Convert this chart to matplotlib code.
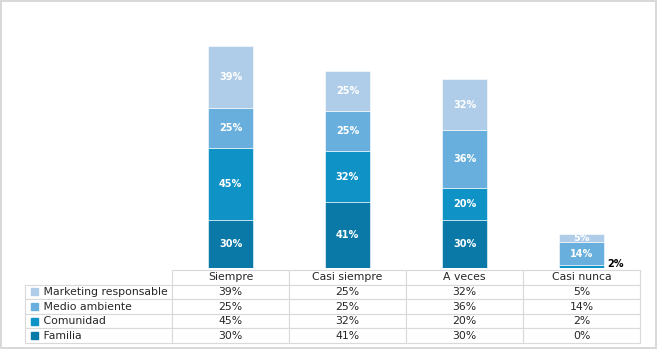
import matplotlib.pyplot as plt
from matplotlib.table import Table
from matplotlib.patches import Rectangle

categorias = ["Siempre", "Casi siempre", "A veces", "Casi nunca"]
series = ["Familia", "Comunidad", "Medio ambiente", "Marketing responsable"]
familia = [30, 41, 30, 0]
comunidad = [45, 32, 20, 2]
medio_ambiente = [25, 25, 36, 14]
marketing = [39, 25, 32, 5]
valores = [familia, comunidad, medio_ambiente, marketing]
colores = ["#0B79A7", "#0F93C7", "#68AFDD", "#AFCDE8"]

fig = plt.figure(figsize=(6.57, 3.49), dpi=100)
fig.patch.set_edgecolor("#D9D9D9")
fig.patch.set_linewidth(1.5)
ax = fig.add_axes([172 / 657, 1 - 268 / 349, 468 / 657, 256 / 349])

x = list(range(len(categorias)))
base = [0] * len(categorias)
for vals, col in zip(valores, colores):
    ax.bar(x, vals, width=0.39, bottom=base, color=col, edgecolor="white", linewidth=0.4)
    for i, v in enumerate(vals):
        if v == 0:
            continue
        if v < 4:
            ax.text(i + 0.22, base[i] + v / 2 + 1.5, f"{v}%", ha="left", va="center",
                    fontsize=7, fontweight="bold", color="black")
        else:
            ax.text(i, base[i] + v / 2, f"{v}%", ha="center", va="center",
                    fontsize=7, fontweight="bold", color="white")
    base = [b + v for b, v in zip(base, vals)]

ax.set_xlim(-0.5, 3.5)
ax.set_ylim(0, 160)
ax.axis("off")

# tabla de datos (el bbox cubre solo las columnas de datos)
tabla = Table(ax, bbox=[0, -75 / 256, 1, 73 / 256])
h = 1 / 5
for j, c in enumerate(categorias):
    tabla.add_cell(0, j, width=0.25, height=h, text=c, loc="center", edgecolor="#D9D9D9")
filas = list(zip(series, valores, colores))[::-1]
for r, (nombre, vals, col) in enumerate(filas, start=1):
    tabla.add_cell(r, -1, width=147 / 468, height=h, text=" " + nombre, loc="left",
                   edgecolor="#D9D9D9")
    for j, v in enumerate(vals):
        tabla.add_cell(r, j, width=0.25, height=h, text=f"{v}%", loc="center",
                       edgecolor="#D9D9D9")
tabla.auto_set_font_size(False)
tabla.set_fontsize(7.8)
for cell in tabla.get_celld().values():
    cell.set_linewidth(0.8)
    cell.get_text().set_color("#262626")
ax.add_table(tabla)

# cuadros de leyenda en las etiquetas de fila
for r, (nombre, vals, col) in enumerate(filas):
    ycen = 268 + 2 + 14.6 * (r + 1) + 7.3
    fig.patches.append(Rectangle((31 / 657, 1 - (ycen + 3.5) / 349), 7 / 657, 7 / 349,
                                 transform=fig.transFigure, color=col))

fig.savefig("out.png", dpi=100)
